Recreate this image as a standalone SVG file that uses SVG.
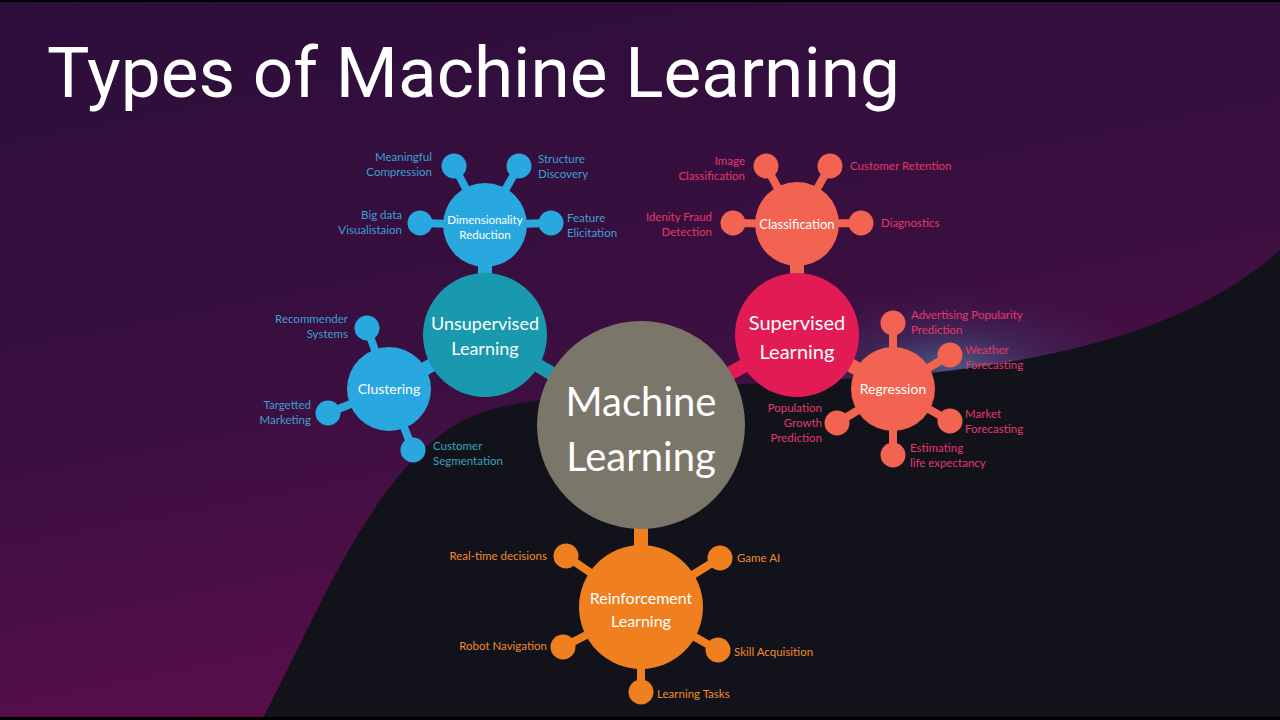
<svg xmlns="http://www.w3.org/2000/svg" width="1280" height="720" viewBox="0 0 1280 720">
<defs>
<linearGradient id="bg" x1="0" y1="0" x2="0.35" y2="1">
<stop offset="0" stop-color="#2c0e3b"/>
<stop offset="0.55" stop-color="#3a0f40"/>
<stop offset="1" stop-color="#5c0f4a"/>
</linearGradient>
<radialGradient id="glow" cx="0.5" cy="0.5" r="0.5">
<stop offset="0" stop-color="#4f7aa6" stop-opacity="0.7"/>
<stop offset="0.45" stop-color="#3c4878" stop-opacity="0.35"/>
<stop offset="1" stop-color="#3a2a60" stop-opacity="0"/>
</radialGradient>
<style>
.lbl{font-family:Lato,"Liberation Sans",sans-serif;font-size:11.5px}
.lb{fill:#3d9fd2}
.lr{fill:#e5386a}
.lo{fill:#f08a2c}
.in{font-family:Lato,"Liberation Sans",sans-serif;fill:#ffffff;text-anchor:middle}
.e{text-anchor:end}
.cb{stroke:#29a8e0}
.cc{stroke:#f26352}
.co{stroke:#f0801f}
.sat{stroke-width:8;stroke-linecap:butt}
.bar{stroke-width:14}
</style>
</defs>
<rect x="0" y="0" width="1280" height="720" fill="url(#bg)"/>
<ellipse cx="950" cy="365" rx="200" ry="75" fill="url(#glow)"/>
<path d="M 262 720 C 320 610 380 450 480 413 C 560 385 800 385 930 373 C 1080 356 1200 322 1280 250 L 1280 720 Z" fill="#12121b"/>
<rect x="0" y="0" width="1280" height="2" fill="#000"/>
<rect x="0" y="717" width="1280" height="3" fill="#000"/>
<text x="47" y="97" font-family="Roboto,'Liberation Sans',sans-serif" font-size="70" fill="#ffffff" textLength="853" lengthAdjust="spacingAndGlyphs">Types of Machine Learning</text>

<g id="connectors">
<line x1="485" y1="335" x2="641" y2="425" stroke="#1899ad" class="bar"/>
<line x1="797" y1="335" x2="641" y2="425" stroke="#e31b54" class="bar"/>
<line x1="641" y1="425" x2="641" y2="607" class="co bar"/>
<line x1="485" y1="225" x2="485" y2="335" class="cb bar"/>
<line x1="389" y1="389" x2="485" y2="335" class="cb bar"/>
<line x1="797" y1="224" x2="797" y2="335" class="cc bar"/>
<line x1="893" y1="389" x2="797" y2="335" class="cc bar"/>
<g class="sat cb">
<line x1="485" y1="225" x2="454" y2="166"/>
<line x1="485" y1="225" x2="519" y2="166"/>
<line x1="485" y1="225" x2="420" y2="223"/>
<line x1="485" y1="225" x2="551" y2="223"/>
<line x1="389" y1="389" x2="367" y2="328"/>
<line x1="389" y1="389" x2="328" y2="413"/>
<line x1="389" y1="389" x2="413" y2="450"/>
</g>
<g class="sat cc">
<line x1="797" y1="224" x2="766" y2="166"/>
<line x1="797" y1="224" x2="830" y2="166"/>
<line x1="797" y1="224" x2="733" y2="223"/>
<line x1="797" y1="224" x2="861" y2="223"/>
<line x1="893" y1="389" x2="893" y2="323"/>
<line x1="893" y1="389" x2="950" y2="355"/>
<line x1="893" y1="389" x2="837" y2="423"/>
<line x1="893" y1="389" x2="950" y2="421"/>
<line x1="893" y1="389" x2="893" y2="455"/>
</g>
<g class="sat co">
<line x1="641" y1="607" x2="566" y2="556"/>
<line x1="641" y1="607" x2="720" y2="558"/>
<line x1="641" y1="607" x2="563" y2="647"/>
<line x1="641" y1="607" x2="718" y2="650"/>
<line x1="641" y1="607" x2="641" y2="692"/>
</g>
</g>

<g id="machine-learning">
<circle cx="641" cy="425" r="104" fill="#7b766a"/>
<text class="in" x="641" y="416" font-size="40">Machine</text>
<text class="in" x="641" y="471" font-size="40">Learning</text>
</g>

<g id="unsupervised-learning">
<circle cx="485" cy="335" r="62" fill="#1899ad"/>
<text class="in" x="485" y="330" font-size="18">Unsupervised</text>
<text class="in" x="485" y="355" font-size="18">Learning</text>
</g>

<g id="dimensionality-reduction">
<circle cx="485" cy="225" r="42" fill="#29a8e0"/>
<text class="in" x="485" y="224" font-size="11.5">Dimensionality</text>
<text class="in" x="485" y="239" font-size="11.5">Reduction</text>
<g fill="#29a8e0">
<circle cx="454" cy="166" r="12.5"/>
<circle cx="519" cy="166" r="12.5"/>
<circle cx="420" cy="223" r="12.5"/>
<circle cx="551" cy="223" r="12.5"/>
</g>
<text class="lbl lb e" x="432" y="161">Meaningful</text>
<text class="lbl lb e" x="432" y="176">Compression</text>
<text class="lbl lb" x="538" y="163">Structure</text>
<text class="lbl lb" x="538" y="178">Discovery</text>
<text class="lbl lb e" x="402" y="219">Big data</text>
<text class="lbl lb e" x="402" y="234">Visualistaion</text>
<text class="lbl lb" x="567" y="222">Feature</text>
<text class="lbl lb" x="567" y="237">Elicitation</text>
</g>

<g id="clustering">
<circle cx="389" cy="389" r="42" fill="#29a8e0"/>
<text class="in" x="389" y="394" font-size="14">Clustering</text>
<g fill="#29a8e0">
<circle cx="367" cy="328" r="12.5"/>
<circle cx="328" cy="413" r="12.5"/>
<circle cx="413" cy="450" r="12.5"/>
</g>
<text class="lbl lb e" x="348" y="323">Recommender</text>
<text class="lbl lb e" x="348" y="338">Systems</text>
<text class="lbl lb e" x="311" y="409">Targetted</text>
<text class="lbl lb e" x="311" y="424">Marketing</text>
<text class="lbl" x="433" y="450" fill="#3aa2b8">Customer</text>
<text class="lbl" x="433" y="465" fill="#3aa2b8">Segmentation</text>
</g>

<g id="supervised-learning">
<circle cx="797" cy="335" r="62" fill="#e31b54"/>
<text class="in" x="797" y="330" font-size="20">Supervised</text>
<text class="in" x="797" y="359" font-size="20">Learning</text>
</g>

<g id="classification">
<circle cx="797" cy="224" r="42" fill="#f26352"/>
<text class="in" x="797" y="229" font-size="13">Classification</text>
<g fill="#f26352">
<circle cx="766" cy="166" r="12.5"/>
<circle cx="830" cy="166" r="12.5"/>
<circle cx="733" cy="223" r="12.5"/>
<circle cx="861" cy="223" r="12.5"/>
</g>
<text class="lbl lr e" x="745" y="165">Image</text>
<text class="lbl lr e" x="745" y="180">Classification</text>
<text class="lbl lr" x="850" y="170">Customer Retention</text>
<text class="lbl lr e" x="712" y="221">Idenity Fraud</text>
<text class="lbl lr e" x="712" y="236">Detection</text>
<text class="lbl lr" x="881" y="227">Diagnostics</text>
</g>

<g id="regression">
<circle cx="893" cy="389" r="42" fill="#f26352"/>
<text class="in" x="893" y="394" font-size="14">Regression</text>
<g fill="#f26352">
<circle cx="893" cy="323" r="12.5"/>
<circle cx="950" cy="355" r="12.5"/>
<circle cx="837" cy="423" r="12.5"/>
<circle cx="950" cy="421" r="12.5"/>
<circle cx="893" cy="455" r="12.5"/>
</g>
<text class="lbl lr" x="911" y="319">Advertising Popularity</text>
<text class="lbl lr" x="911" y="334">Prediction</text>
<text class="lbl lr" x="965" y="354">Weather</text>
<text class="lbl lr" x="965" y="369">Forecasting</text>
<text class="lbl lr e" x="822" y="412">Population</text>
<text class="lbl lr e" x="822" y="427">Growth</text>
<text class="lbl lr e" x="822" y="442">Prediction</text>
<text class="lbl lr" x="965" y="418">Market</text>
<text class="lbl lr" x="965" y="433">Forecasting</text>
<text class="lbl lr" x="910" y="452">Estimating</text>
<text class="lbl lr" x="910" y="467">life expectancy</text>
</g>

<g id="reinforcement-learning">
<circle cx="641" cy="607" r="62" fill="#f0801f"/>
<text class="in" x="641" y="604" font-size="16">Reinforcement</text>
<text class="in" x="641" y="627" font-size="16">Learning</text>
<g fill="#f0801f">
<circle cx="566" cy="556" r="12.5"/>
<circle cx="720" cy="558" r="12.5"/>
<circle cx="563" cy="647" r="12.5"/>
<circle cx="718" cy="650" r="12.5"/>
<circle cx="641" cy="692" r="12.5"/>
</g>
<text class="lbl lo e" x="547" y="560">Real-time decisions</text>
<text class="lbl lo" x="737" y="562">Game AI</text>
<text class="lbl lo e" x="547" y="650">Robot Navigation</text>
<text class="lbl lo" x="734" y="656">Skill Acquisition</text>
<text class="lbl lo" x="657" y="698">Learning Tasks</text>
</g>
</svg>
